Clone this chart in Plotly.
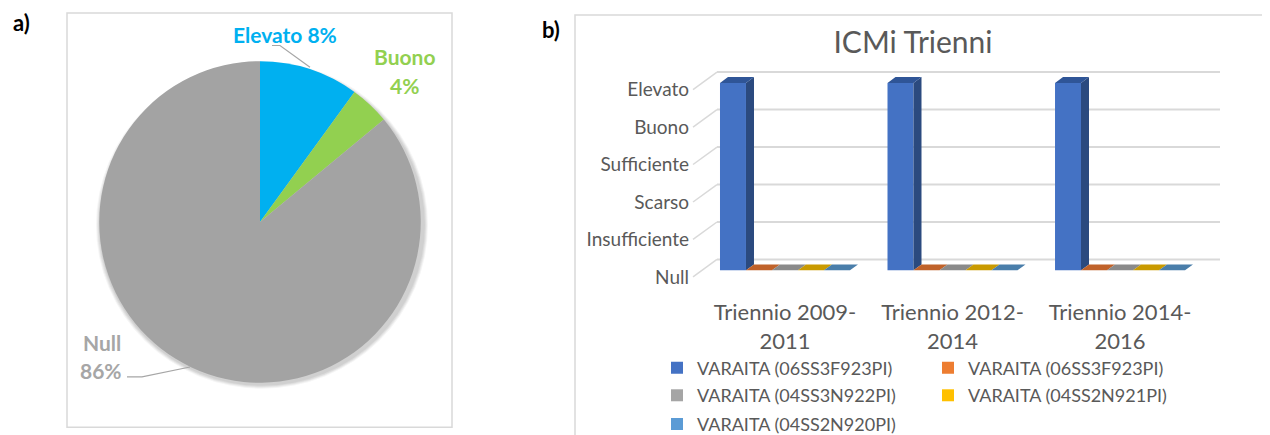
import plotly.graph_objects as go

# the page body has an 8px margin: the figure is drawn full-window size and every
# reference pixel position is shifted by that margin
OFF = 8
W, H = 1270, 435

# ---------------- data: panel a (pie) ----------------
pie_labels = ["Elevato", "Buono", "Null"]
pie_values = [10, 4, 86]            # slice sizes
pie_pct_text = ["8%", "4%", "86%"]  # percentages printed on the chart
pie_colors = ["#00B0F0", "#92D050", "#A3A3A3"]

# ---------------- data: panel b (3D-like bars) ----------------
levels = ["Null", "Insufficiente", "Scarso", "Sufficiente", "Buono", "Elevato"]
trienni = ["Triennio 2009-<br>2011", "Triennio 2012-<br>2014", "Triennio 2014-<br>2016"]
series_names = ["VARAITA (06SS3F923PI)", "VARAITA (06SS3F923PI)",
                "VARAITA (04SS3N922PI)", "VARAITA (04SS2N921PI)",
                "VARAITA (04SS2N920PI)"]
s_06SS3F923PI_a = ["Elevato", "Elevato", "Elevato"]
s_06SS3F923PI_b = ["Null", "Null", "Null"]
s_04SS3N922PI = ["Null", "Null", "Null"]
s_04SS2N921PI = ["Null", "Null", "Null"]
s_04SS2N920PI = ["Null", "Null", "Null"]
series_values = [s_06SS3F923PI_a, s_06SS3F923PI_b, s_04SS3N922PI,
                 s_04SS2N921PI, s_04SS2N920PI]

front_colors = ["#4472C4", "#ED7D31", "#A5A5A5", "#FFC000", "#5B9BD5"]
top_colors = ["#2F5597", "#C0622A", "#8A8A8A", "#C99A00", "#4A7EAA"]
side_colors = ["#2B4A7F", "#A8531F", "#7A7A7A", "#B08700", "#3F6E96"]

FONT = "Lato"
GREY_TXT = "#595959"


def px(x):
    return (x - OFF) / W


def py(y):
    return 1 - (y - OFF) / H


fig = go.Figure()

# ---------------- panel a: pie ----------------
cx, cy, r = 260, 225, 163
fig.add_trace(go.Pie(
    labels=pie_labels, values=pie_values, sort=False,
    direction="clockwise", rotation=0,
    marker=dict(colors=pie_colors, line=dict(width=0)),
    textinfo="none", hoverinfo="label+percent", showlegend=False,
    domain=dict(x=[px(cx - r), px(cx + r)], y=[py(cy + r), py(cy - r)]),
))

# ---------------- panel b: bars ----------------
n = len(series_values)
BARGAP = 0.224
bw = (1 - BARGAP) / n
DX = 8 / 167.5      # depth offset of bar faces (category units)
DY = 6 / 38         # depth offset of bar faces (level units)
BACK_DY = 11 / 38   # back wall offset
BACK_DX = -0.406    # back wall start x
FRONT_EDGE_DY = 6.7 / 38
LEFT_X = -0.549
xs_cat = list(range(len(trienni)))

for j, (name, vals) in enumerate(zip(series_names, series_values)):
    yv = [levels.index(v) for v in vals]
    fig.add_trace(go.Bar(
        x=xs_cat, y=yv, name=name,
        marker=dict(color=front_colors[j], line=dict(width=0)),
        legend=["legend", "legend", "legend2", "legend2", "legend3"][j],
        xaxis="x", yaxis="y",
    ))

# top and side faces (derived from values)
for j, vals in enumerate(series_values):
    tx, ty, sx, sy = [], [], [], []
    for i, v in enumerate(vals):
        val = levels.index(v)
        c = i + (j - (n - 1) / 2) * bw
        L, R = c - bw / 2, c + bw / 2
        tx += [L, R, R + DX, L + DX, L, None]
        ty += [val, val, val + DY, val + DY, val, None]
        if val > 0:
            sx += [R, R + DX, R + DX, R, R, None]
            sy += [0, DY, val + DY, val, 0, None]
    if sx:
        fig.add_trace(go.Scatter(x=sx, y=sy, mode="lines", fill="toself",
                                 fillcolor=side_colors[j], line=dict(width=0),
                                 showlegend=False, hoverinfo="skip"))
    fig.add_trace(go.Scatter(x=tx, y=ty, mode="lines", fill="toself",
                             fillcolor=top_colors[j], line=dict(width=0),
                             showlegend=False, hoverinfo="skip"))

shapes = []
# soft shadow under the pie
for k, op in enumerate([0.05, 0.05, 0.05, 0.04]):
    rr = r + k
    shapes.append(dict(type="circle", xref="paper", yref="paper", layer="below",
                       x0=px(cx + 2 - rr), x1=px(cx + 2 + rr),
                       y0=py(cy + 3 + rr), y1=py(cy + 3 - rr),
                       fillcolor=f"rgba(0,0,0,{op})", line=dict(width=0)))

# back-wall gridlines and left-wall depth lines (one per level)
for k in range(len(levels)):
    shapes.append(dict(type="line", xref="x", yref="y", layer="below",
                       x0=BACK_DX, x1=2.597, y0=k + BACK_DY, y1=k + BACK_DY,
                       line=dict(color="#D9D9D9", width=2)))
    shapes.append(dict(type="line", xref="x", yref="y", layer="below",
                       x0=LEFT_X, x1=BACK_DX, y0=k - FRONT_EDGE_DY, y1=k + BACK_DY,
                       line=dict(color="#D9D9D9", width=1.5)))

# panel borders
shapes.append(dict(type="rect", xref="paper", yref="paper", layer="below",
                   x0=px(67), x1=px(452), y0=py(433), y1=py(13),
                   line=dict(color="#D9D9D9", width=1.5)))
shapes.append(dict(type="rect", xref="paper", yref="paper", layer="below",
                   x0=px(575), x1=px(1267), y0=py(445), y1=py(15),
                   line=dict(color="#D9D9D9", width=1.5)))

# leader lines of pie labels
def pth(pts):
    return "M " + " L ".join(f"{px(a):.5f},{py(b):.5f}" for a, b in pts)

shapes.append(dict(type="path", xref="paper", yref="paper",
                   path=pth([(272, 46), (280, 46), (310, 68)]),
                   line=dict(color="#A6A6A6", width=1.2)))
shapes.append(dict(type="path", xref="paper", yref="paper",
                   path=pth([(127, 382), (142, 382), (190, 372)]),
                   line=dict(color="#A6A6A6", width=1.2)))

annotations = [
    dict(text="<b>a)</b>", x=px(21), y=py(23)),
    dict(text="<b>b)</b>", x=px(551), y=py(30)),
]
for a in annotations:
    a.update(xref="paper", yref="paper", showarrow=False, xanchor="center",
             yanchor="middle", font=dict(family=FONT, size=22, color="#000000"))

lab_font = lambda col: dict(family=FONT, size=21, color=col)
annotations += [
    dict(text=f"<b>{pie_labels[0]} {pie_pct_text[0]}</b>", x=px(285), y=py(35),
         font=lab_font(pie_colors[0])),
    dict(text=f"<b>{pie_labels[1]}</b>", x=px(404), y=py(57), font=lab_font(pie_colors[1])),
    dict(text=f"<b>{pie_pct_text[1]}</b>", x=px(404), y=py(87), font=lab_font(pie_colors[1])),
    dict(text=f"<b>{pie_labels[2]}</b>", x=px(102), y=py(347), font=lab_font("#A6A6A6")),
    dict(text=f"<b>{pie_pct_text[2]}</b>", x=px(101), y=py(376), font=lab_font("#A6A6A6")),
]
for a in annotations[2:]:
    a.update(xref="paper", yref="paper", showarrow=False, xanchor="center", yanchor="middle")

legend_common = dict(orientation="h", xanchor="left", yanchor="middle",
                     x=px(657), entrywidth=226, entrywidthmode="pixels",
                     font=dict(family=FONT, size=18, color=GREY_TXT),
                     bgcolor="rgba(0,0,0,0)", itemclick=False, itemdoubleclick=False)

fig.update_layout(
    width=W, height=H,
    margin=dict(l=0, r=0, t=0, b=0),
    paper_bgcolor="white", plot_bgcolor="rgba(0,0,0,0)",
    barmode="group", bargap=BARGAP, bargroupgap=0,
    title=dict(text="ICMi Trienni", x=px(913), y=py(43), xanchor="center",
               yanchor="middle", xref="paper", yref="paper",
               font=dict(family=FONT, size=30, color=GREY_TXT)),
    xaxis=dict(domain=[px(690), px(1222.2)], range=[-0.567, 2.61],
               tickvals=xs_cat, ticktext=trienni, showgrid=False,
               zeroline=False, showline=False, ticks="", ticklabelstandoff=8,
               tickfont=dict(family=FONT, size=22, color=GREY_TXT),
               fixedrange=True),
    yaxis=dict(domain=[py(293), py(53.6)], range=[-0.5, 5.8],
               tickvals=[k - FRONT_EDGE_DY for k in range(len(levels))],
               ticktext=levels, showgrid=False, zeroline=False, showline=False,
               ticks="", tickfont=dict(family=FONT, size=19, color=GREY_TXT),
               fixedrange=True),
    legend=dict(**legend_common, y=py(373)),
    legend2=dict(**legend_common, y=py(401)),
    legend3=dict(**legend_common, y=py(430)),
    shapes=shapes,
    annotations=annotations,
    font=dict(family=FONT, color=GREY_TXT),
)

fig.write_html("out.html")
